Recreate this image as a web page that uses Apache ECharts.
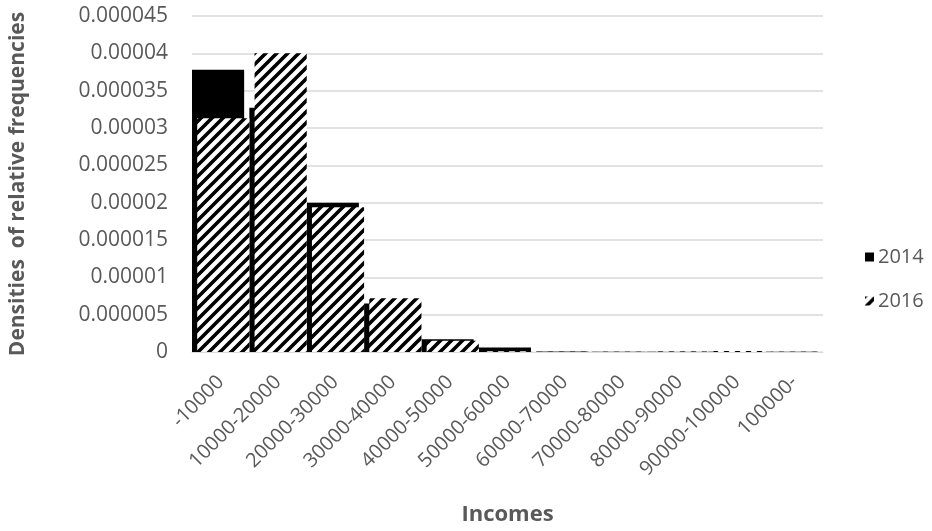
<!DOCTYPE html>
<html>
<head>
<meta charset="utf-8">
<script src="https://cdn.jsdelivr.net/npm/echarts@6/dist/echarts.min.js"></script>
<style>
html,body{margin:0;padding:0;background:#fff;}
#chart{width:932px;height:531px;}
</style>
</head>
<body>
<div id="chart"></div>
<script>
const categories = ['-10000','10000-20000','20000-30000','30000-40000','40000-50000','50000-60000','60000-70000','70000-80000','80000-90000','90000-100000','100000-'];
const values2014 = [0.0000378, 0.0000327, 0.0000200, 0.0000065, 0.0000017, 0.0000006, 0.00000008, 0.00000002, 0.00000003, 0.00000005, 0.00000005];
const values2016 = [0.0000313, 0.0000400, 0.0000194, 0.0000072, 0.0000015, 0.0000001, 0.00000005, 0.00000002, 0.00000008, 0.00000015, 0.00000003];
const yTickLabels = ['0','0.000005','0.00001','0.000015','0.00002','0.000025','0.00003','0.000035','0.00004','0.000045'];
const yInterval = 0.000005;
const yMax = 0.000045;

function makeHatch() {
  const s = 11;
  const c = document.createElement('canvas');
  c.width = s; c.height = s;
  const ctx = c.getContext('2d');
  ctx.fillStyle = '#ffffff';
  ctx.fillRect(0, 0, s, s);
  ctx.strokeStyle = '#000000';
  ctx.lineWidth = 3.6;
  ctx.lineCap = 'square';
  for (let k = -1; k <= 1; k++) {
    ctx.beginPath();
    ctx.moveTo(k * s - 2, s + 2);
    ctx.lineTo(k * s + s + 2, -2);
    ctx.stroke();
  }
  return c;
}
const hatch = makeHatch();

const chart = echarts.init(document.getElementById('chart'), null, {renderer: 'canvas'});
const txt = '#595959';
const fam = '"Open Sans", "Noto Sans", sans-serif';
chart.setOption({
  animation: false,
  backgroundColor: '#ffffff',
  grid: {left: 189, right: 109, top: 16, bottom: 175, containLabel: false},
  legend: {
    orient: 'vertical',
    left: 860,
    top: 242,
    itemWidth: 9,
    itemHeight: 9,
    itemGap: 24,
    icon: 'rect',
    textStyle: {color: txt, fontSize: 20, fontFamily: fam, padding: [0,0,0,-1]},
    data: ['2014', '2016']
  },
  xAxis: {
    type: 'category',
    data: categories,
    name: 'Incomes',
    nameLocation: 'middle',
    nameGap: 152,
    nameTextStyle: {color: txt, fontSize: 22, fontWeight: 'bold', fontFamily: fam},
    axisLine: {lineStyle: {color: '#d9d9d9', width: 1}},
    axisTick: {show: false},
    axisLabel: {rotate: 45, color: txt, fontSize: 20, fontFamily: fam, margin: 27, interval: 0}
  },
  yAxis: {
    type: 'value',
    min: 0,
    max: yMax,
    interval: yInterval,
    name: 'Densities  of relative frequencies',
    nameLocation: 'middle',
    nameGap: 163,
    nameTextStyle: {color: txt, fontSize: 21, fontWeight: 'bold', fontFamily: fam},
    axisLine: {show: false},
    axisTick: {show: false},
    splitLine: {lineStyle: {color: '#d9d9d9', width: 1.5}},
    axisLabel: {
      color: txt, fontSize: 21, fontFamily: fam, margin: 24,
      formatter: function (v) { return yTickLabels[Math.round(v / yInterval)]; }
    }
  },
  series: [
    {
      name: '2014',
      type: 'bar',
      data: values2014,
      barCategoryGap: '0%',
      barGap: '-90%',
      itemStyle: {color: '#000000'}
    },
    {
      name: '2016',
      type: 'bar',
      data: values2016,
      barCategoryGap: '0%',
      barGap: '-90%',
      itemStyle: {color: {image: hatch, repeat: 'repeat'}}
    }
  ]
});
</script>
</body>
</html>
